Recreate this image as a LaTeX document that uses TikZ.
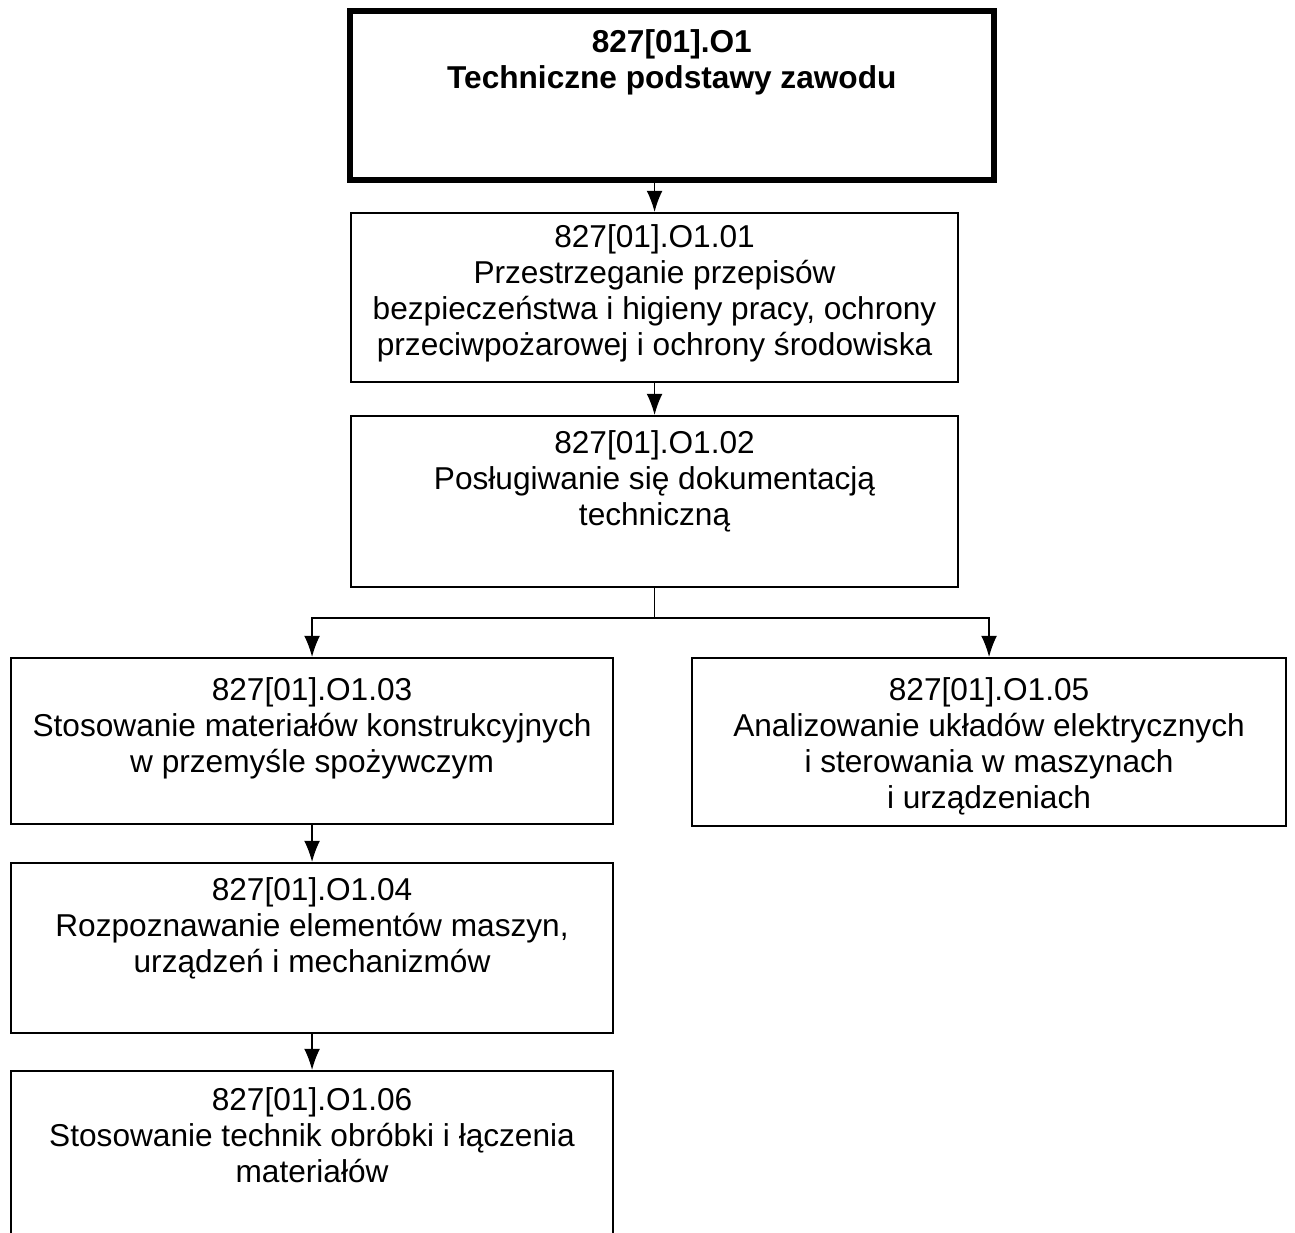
\documentclass[tikz,border=0pt]{standalone}
\usepackage{fontspec}
\setmainfont{Liberation Sans}
\usepackage{tikz}
\usetikzlibrary{arrows.meta}

\newlength{\pxu}\setlength{\pxu}{0.02cm}
% width, height, first baseline, text
\newcommand{\tresc}[4]{\parbox[c][#2\pxu][t]{#1\pxu}{\centering\rule{0pt}{#3\pxu}#4}}

\begin{document}
\begin{tikzpicture}[x=0.02cm, y=-0.02cm,
  blok/.style={draw, line width=1.2pt, anchor=north west, inner sep=0pt, font=\fontsize{18}{20.5}\selectfont},
  glowny/.style={blok, line width=3.2pt, font=\fontsize{18}{20.5}\selectfont\bfseries},
  strz/.style={line width=0.8pt, -{Latex[length=12pt,width=9pt]}}]
\useasboundingbox (0,0) rectangle (1295,1233);
% Boxes
\node[glowny] (o1) at (347,8) {\tresc{644}{169}{42}{827[01].O1\\Techniczne podstawy zawodu}};
\node[blok] (o101) at (350,212) {\tresc{607}{169}{34}{827[01].O1.01\\Przestrzeganie przepisów\\bezpieczeństwa i higieny pracy, ochrony\\przeciwpożarowej i ochrony środowiska}};
\node[blok] (o102) at (350,415) {\tresc{607}{171}{37}{827[01].O1.02\\Posługiwanie się dokumentacją\\techniczną}};
\node[blok] (o103) at (10,657) {\tresc{602}{166}{42}{827[01].O1.03\\Stosowanie materiałów konstrukcyjnych\\w przemyśle spożywczym}};
\node[blok] (o105) at (691,657) {\tresc{594}{168}{42}{827[01].O1.05\\Analizowanie układów elektrycznych\\i sterowania w maszynach\\i urządzeniach}};
\node[blok] (o104) at (10,862) {\tresc{602}{170}{37}{827[01].O1.04\\Rozpoznawanie elementów maszyn,\\urządzeń i mechanizmów}};
\node[blok] (o106) at (10,1070) {\tresc{602}{200}{39}{827[01].O1.06\\Stosowanie technik obróbki i łączenia\\materiałów}};
% Connectors
\coordinate (rozg) at (o102.south |- 0,618);
\draw[strz] (o101.north |- o1.south) -- (o101.north);
\draw[strz] (o101.south) -- (o102.north);
\draw[line width=0.8pt] (o102.south) -- (rozg);
\draw[strz] (rozg) -| (o103.north);
\draw[strz] (rozg) -| (o105.north);
\draw[strz] (o103.south) -- (o104.north);
\draw[strz] (o104.south) -- (o106.north);
\end{tikzpicture}
\end{document}
